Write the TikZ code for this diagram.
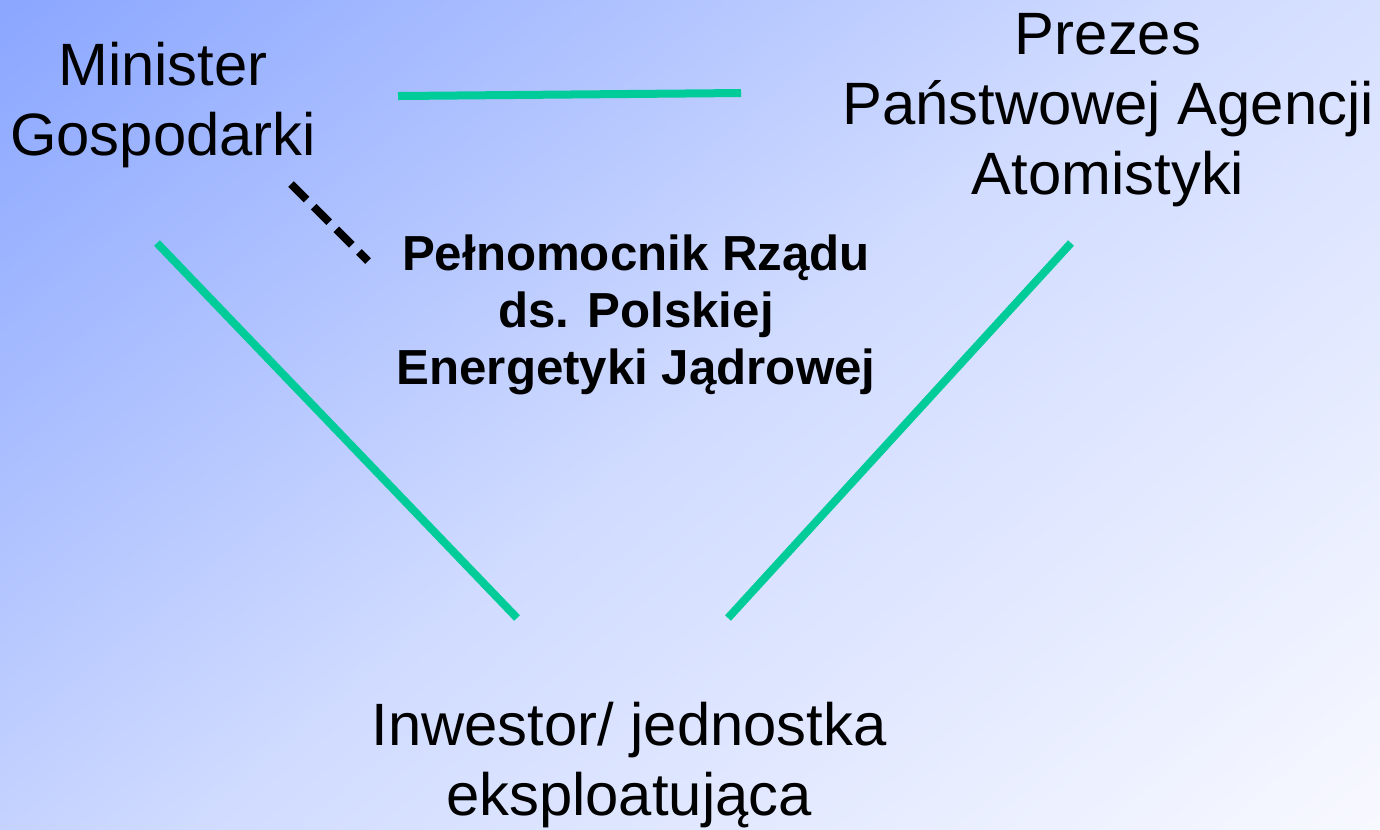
\documentclass[tikz,border=0pt]{standalone}
\usepackage{fontspec}
\setmainfont{Liberation Sans}
\usetikzlibrary{positioning}
\definecolor{slidetop}{HTML}{8AA6FF}
\definecolor{slidemid}{HTML}{D0DBFF}
\definecolor{slidebottom}{HTML}{F8F9FF}
\definecolor{linkgreen}{HTML}{00CC99}
\pgfdeclarehorizontalshading{slidefade}{100bp}{color(0bp)=(slidetop); color(25bp)=(slidetop); color(50bp)=(slidemid); color(75bp)=(slidebottom); color(100bp)=(slidebottom)}
\begin{document}
\begin{tikzpicture}[x=0.01cm, y=-0.01cm,
    role/.style={align=center, inner sep=0pt, font=\fontsize{17}{19.9}\selectfont},
    envoy/.style={align=center, inner sep=0pt, font=\bfseries\fontsize{14}{16.2}\selectfont},
    link/.style={linkgreen, line width=0.08cm},
    oversight/.style={black, line width=0.08cm, dash pattern=on 0.22cm off 0.10cm}]
  \useasboundingbox (0,0) rectangle (1380,829);
  \begin{scope}
    \clip (0,0) rectangle (1380,829);
    \shade[shading=slidefade, transform canvas={rotate=-50}] (0,-1057) rectangle (1522,533);
  \end{scope}
  \node[role] (minister) at (163,105) {Minister\\Gospodarki};
  \node[role] (prezes) at (1108,110) {Prezes\\Państwowej Agencji\\Atomistyki};
  \node[envoy] (pelnomocnik) at (636,315) {Pełnomocnik Rządu\\ds. Polskiej\\Energetyki Jądrowej};
  \node[role] (inwestor) at (629,765) {Inwestor/ jednostka\\eksploatująca};
  \coordinate (minister-r) at (398,96);
  \coordinate (prezes-l) at (741,93);
  \coordinate (minister-b) at (157,243);
  \coordinate (prezes-b) at (1071,243);
  \coordinate (inwestor-l) at (517,618);
  \coordinate (inwestor-r) at (728,618);
  \coordinate (minister-d) at (291,184);
  \coordinate (pelnomocnik-d) at (368,261);
  \draw[link] (minister-r) -- (prezes-l);
  \draw[link] (minister-b) -- (inwestor-l);
  \draw[link] (prezes-b) -- (inwestor-r);
  \draw[oversight] (minister-d) -- (pelnomocnik-d);
\end{tikzpicture}
\end{document}
